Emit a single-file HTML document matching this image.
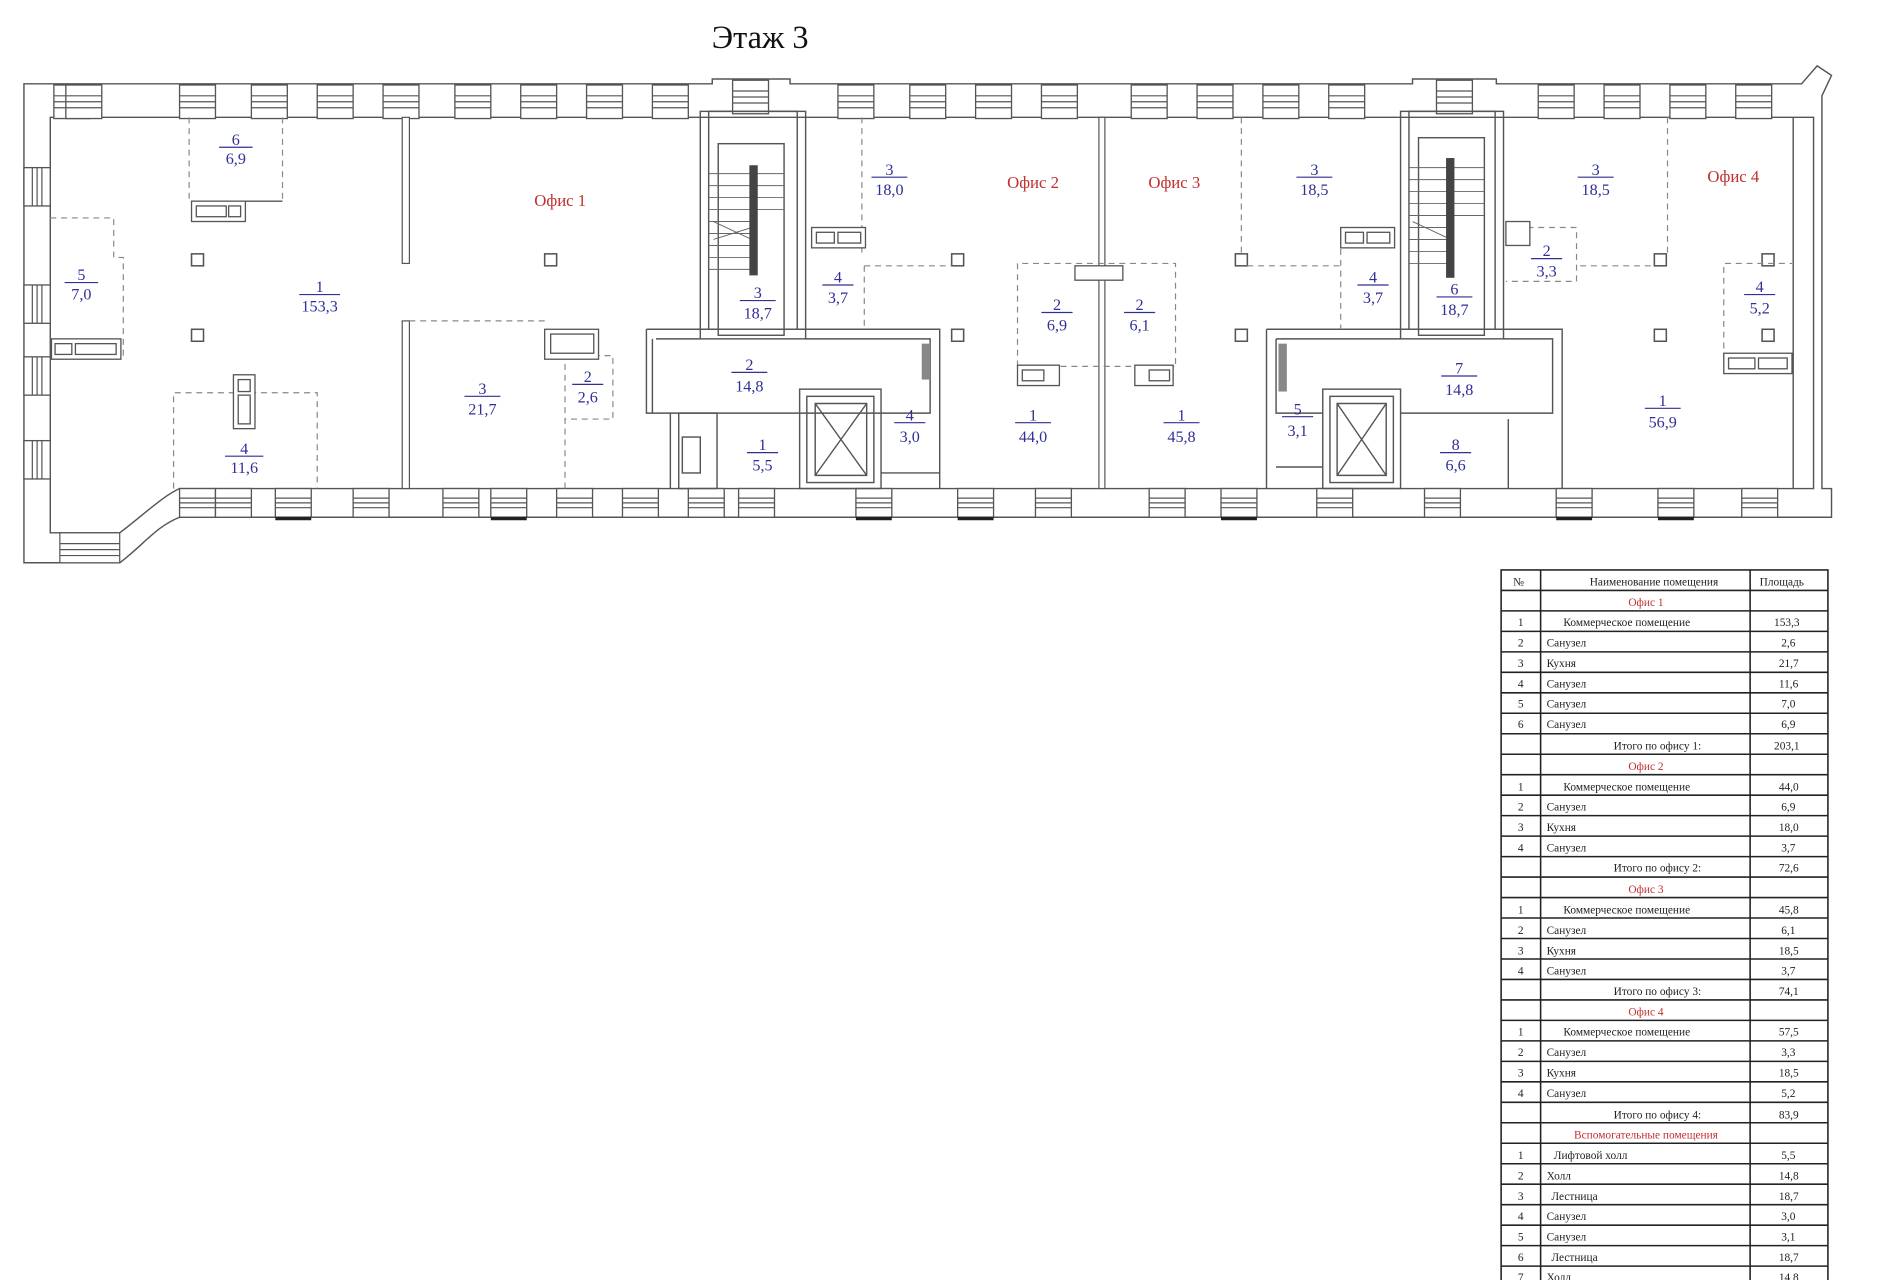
<!DOCTYPE html>
<html><head><meta charset="utf-8"><style>
html,body{margin:0;padding:0;background:#fff}
svg{display:block}
.w{fill:none;stroke:#555;stroke-width:1.2}
.d{fill:none;stroke:#888;stroke-width:1;stroke-dasharray:5,4}
.l{font-family:"Liberation Serif",serif;font-size:13.5px;fill:#2f2f98;text-anchor:middle}
.r{font-family:"Liberation Serif",serif;font-size:14px;fill:#c03030;text-anchor:middle}
.t{font-family:"Liberation Serif",serif;font-size:9.5px;fill:#222}
.tr{font-family:"Liberation Serif",serif;font-size:9.5px;fill:#c03030;text-anchor:middle}
</style></head><body>
<svg width="1877" height="1280" viewBox="0 0 1568 1069" preserveAspectRatio="none" xmlns="http://www.w3.org/2000/svg">
<defs>
<g id="wh"><rect x="0" y="0" width="30" height="28" fill="#fff" stroke="#555" stroke-width="1.1"/><line x1="0" y1="9" x2="30" y2="9" stroke="#555"/><line x1="0" y1="14" x2="30" y2="14" stroke="#555"/><line x1="0" y1="19" x2="30" y2="19" stroke="#555"/></g>
<g id="wv"><rect x="0" y="0" width="22" height="32" fill="#fff" stroke="#555" stroke-width="1.1"/><line x1="7" y1="0" x2="7" y2="32" stroke="#555"/><line x1="11" y1="0" x2="11" y2="32" stroke="#555"/><line x1="15" y1="0" x2="15" y2="32" stroke="#555"/></g>
<g id="wb"><rect x="0" y="0" width="30" height="24" fill="#fff" stroke="#555" stroke-width="1.1"/><line x1="0" y1="8" x2="30" y2="8" stroke="#555"/><line x1="0" y1="12" x2="30" y2="12" stroke="#555"/><line x1="0" y1="16" x2="30" y2="16" stroke="#555"/></g>
<g id="col"><rect x="0" y="0" width="10" height="10" fill="#fff" stroke="#555" stroke-width="1.3"/></g>
</defs>
<text x="635" y="40" text-anchor="middle" font-family="Liberation Serif,serif" font-size="27" fill="#111">Этаж 3</text>

<!-- outer walls -->
<path class="w" d="M20,70 H595 V66 H660 V70 H1180 V66 H1250 V70 H1505 L1518,55 L1530,63 L1522,80 V408 H1530 V432 H150 C130,440 120,455 100,470 H20 Z" fill="#fff"/>
<path class="w" d="M42,98 H1515 V408 H150 C135,415 120,430 100,445 H42 Z"/>
<line class="w" x1="1498" y1="98" x2="1498" y2="408"/>
<!-- top windows -->
<use href="#wh" x="45" y="71"/><use href="#wh" x="55" y="71"/>
<use href="#wh" x="150" y="71"/><use href="#wh" x="210" y="71"/><use href="#wh" x="265" y="71"/><use href="#wh" x="320" y="71"/><use href="#wh" x="380" y="71"/><use href="#wh" x="435" y="71"/><use href="#wh" x="490" y="71"/><use href="#wh" x="545" y="71"/>
<use href="#wh" x="612" y="67"/><use href="#wh" x="700" y="71"/><use href="#wh" x="760" y="71"/><use href="#wh" x="815" y="71"/><use href="#wh" x="870" y="71"/><use href="#wh" x="945" y="71"/><use href="#wh" x="1000" y="71"/><use href="#wh" x="1055" y="71"/><use href="#wh" x="1110" y="71"/>
<use href="#wh" x="1200" y="67"/><use href="#wh" x="1285" y="71"/><use href="#wh" x="1340" y="71"/><use href="#wh" x="1395" y="71"/><use href="#wh" x="1450" y="71"/>
<!-- left windows -->
<use href="#wv" x="20" y="140"/><use href="#wv" x="20" y="238"/><use href="#wv" x="20" y="298"/><use href="#wv" x="20" y="368"/>
<rect x="50" y="445" width="50" height="25" fill="#fff" stroke="#555"/><line x1="50" y1="454" x2="100" y2="454" stroke="#555"/><line x1="50" y1="459" x2="100" y2="459" stroke="#555"/><line x1="50" y1="464" x2="100" y2="464" stroke="#555"/>
<!-- bottom windows -->
<use href="#wb" x="150" y="408"/><use href="#wb" x="180" y="408"/><use href="#wb" x="230" y="408"/><use href="#wb" x="295" y="408"/><use href="#wb" x="370" y="408"/><use href="#wb" x="410" y="408"/><use href="#wb" x="465" y="408"/><use href="#wb" x="520" y="408"/><use href="#wb" x="575" y="408"/><use href="#wb" x="617" y="408"/><use href="#wb" x="715" y="408"/><use href="#wb" x="800" y="408"/><use href="#wb" x="865" y="408"/><use href="#wb" x="960" y="408"/><use href="#wb" x="1020" y="408"/><use href="#wb" x="1100" y="408"/><use href="#wb" x="1190" y="408"/><use href="#wb" x="1300" y="408"/><use href="#wb" x="1385" y="408"/><use href="#wb" x="1455" y="408"/>
<g stroke="#222" stroke-width="3"><line x1="230" y1="433" x2="260" y2="433"/><line x1="410" y1="433" x2="440" y2="433"/><line x1="715" y1="433" x2="745" y2="433"/><line x1="800" y1="433" x2="830" y2="433"/><line x1="1020" y1="433" x2="1050" y2="433"/><line x1="1300" y1="433" x2="1330" y2="433"/><line x1="1385" y1="433" x2="1415" y2="433"/></g>

<!-- office 1 partition -->
<rect x="336" y="98" width="6" height="122" fill="#fff" stroke="#555"/>
<rect x="336" y="268" width="6" height="140" fill="#fff" stroke="#555"/>
<!-- stairs 1 -->
<rect class="w" x="585" y="93" width="88" height="190" fill="#fff"/>
<rect class="w" x="592" y="93" width="74" height="182"/>
<rect class="w" x="600" y="120" width="55" height="160"/>
<g stroke="#666" stroke-width="0.8"><line x1="592" y1="145" x2="655" y2="145"/><line x1="592" y1="155" x2="655" y2="155"/><line x1="592" y1="165" x2="655" y2="165"/><line x1="592" y1="175" x2="655" y2="175"/><line x1="592" y1="185" x2="628" y2="185"/><line x1="592" y1="195" x2="628" y2="195"/><line x1="592" y1="205" x2="628" y2="205"/><line x1="592" y1="215" x2="628" y2="215"/><line x1="592" y1="225" x2="628" y2="225"/><line x1="596" y1="185" x2="628" y2="200"/><line x1="596" y1="200" x2="628" y2="190"/></g>
<rect x="626" y="138" width="7" height="92" fill="#444"/>
<!-- hall 1 -->
<path class="w" d="M540,275 H785 V408 M540,275 V345 H560 V408 M548,283 H585 M673,283 H777 V345 H545 V283"/>
<rect class="w" x="567" y="345" width="32" height="63"/><rect x="570" y="365" width="15" height="30" class="w"/>
<rect class="w" x="668" y="325" width="68" height="83"/><rect class="w" x="674" y="331" width="56" height="72"/>
<path class="w" d="M681,337 H724 V397 H681 Z M681,337 L724,397 M724,337 L681,397"/>
<rect x="770" y="287" width="7" height="30" fill="#888"/>
<line class="w" x1="736" y1="395" x2="785" y2="395"/>
<!-- office 2/3 partition -->
<rect x="918" y="98" width="5" height="310" fill="#fff" stroke="#555"/>
<!-- stairs 2 -->
<rect class="w" x="1170" y="93" width="86" height="190" fill="#fff"/>
<rect class="w" x="1177" y="93" width="72" height="182"/>
<rect class="w" x="1185" y="115" width="55" height="165"/>
<g stroke="#666" stroke-width="0.8"><line x1="1177" y1="140" x2="1240" y2="140"/><line x1="1177" y1="150" x2="1240" y2="150"/><line x1="1177" y1="160" x2="1240" y2="160"/><line x1="1177" y1="170" x2="1240" y2="170"/><line x1="1177" y1="180" x2="1240" y2="180"/><line x1="1177" y1="190" x2="1212" y2="190"/><line x1="1177" y1="200" x2="1212" y2="200"/><line x1="1177" y1="210" x2="1212" y2="210"/><line x1="1177" y1="220" x2="1212" y2="220"/><line x1="1180" y1="185" x2="1212" y2="200"/></g>
<rect x="1208" y="132" width="7" height="100" fill="#444"/>
<!-- hall 2 -->
<path class="w" d="M1058,275 H1305 V408 M1058,275 V408 M1066,283 H1170 M1256,283 H1297 V345 H1170 M1066,283 V345 H1105"/>
<rect x="1068" y="287" width="7" height="40" fill="#888"/>
<rect class="w" x="1105" y="325" width="65" height="83"/><rect class="w" x="1111" y="331" width="53" height="72"/>
<path class="w" d="M1117,337 H1158 V397 H1117 Z M1117,337 L1158,397 M1158,337 L1117,397"/>
<line class="w" x1="1066" y1="390" x2="1105" y2="390"/><line class="w" x1="1260" y1="350" x2="1260" y2="408"/>

<!-- columns -->
<use href="#col" x="160" y="212"/><use href="#col" x="160" y="275"/><use href="#col" x="455" y="212"/><use href="#col" x="795" y="212"/><use href="#col" x="795" y="275"/><use href="#col" x="1032" y="212"/><use href="#col" x="1032" y="275"/><use href="#col" x="1382" y="212"/><use href="#col" x="1382" y="275"/><use href="#col" x="1472" y="212"/><use href="#col" x="1472" y="275"/>

<!-- dashed rooms -->
<path class="d" d="M158,98 V168 M236,98 V168"/><line class="w" x1="205" y1="168" x2="236" y2="168"/>
<path class="d" d="M42,182 H95 V215 H103 V300"/>
<path class="d" d="M145,408 V328 H265 V408"/>
<path class="d" d="M342,268 H455"/>
<path class="d" d="M472,408 V297 H512 V350 H472"/>
<path class="d" d="M720,98 V215 M722,222 H795 M722,222 V275"/>
<path class="d" d="M850,306 V220 H982 V306 M850,306 H982"/>
<path class="d" d="M1037,98 V215 M1042,222 H1120 M1120,190 V275"/>
<path class="d" d="M1393,98 V215 M1258,190 H1317 V235 H1258 M1320,222 H1382"/>
<path class="d" d="M1440,300 V220 H1497"/>

<!-- fixtures -->
<g fill="#fff" stroke="#555" stroke-width="1.1">
<rect x="160" y="168" width="45" height="17"/><rect x="164" y="172" width="25" height="9"/><rect x="191" y="172" width="10" height="9"/>
<rect x="43" y="283" width="58" height="17"/><rect x="46" y="287" width="14" height="9"/><rect x="63" y="287" width="34" height="9"/>
<rect x="195" y="313" width="18" height="45"/><rect x="199" y="317" width="10" height="10"/><rect x="199" y="330" width="10" height="24"/>
<rect x="455" y="275" width="45" height="25"/><rect x="460" y="279" width="36" height="16"/>
<rect x="678" y="190" width="45" height="17"/><rect x="682" y="194" width="15" height="9"/><rect x="700" y="194" width="19" height="9"/>
<rect x="850" y="305" width="35" height="17"/><rect x="854" y="309" width="18" height="9"/>
<rect x="948" y="305" width="32" height="17"/><rect x="960" y="309" width="17" height="9"/>
<rect x="898" y="222" width="40" height="12"/>
<rect x="1120" y="190" width="45" height="17"/><rect x="1124" y="194" width="15" height="9"/><rect x="1142" y="194" width="19" height="9"/>
<rect x="1258" y="185" width="20" height="20"/>
<rect x="1440" y="295" width="57" height="17"/><rect x="1444" y="299" width="22" height="9"/><rect x="1469" y="299" width="24" height="9"/>
</g>

<!-- area labels -->
<g class="l">
<text x="197" y="121">6</text><line x1="183" y1="123" x2="211" y2="123" stroke="#2f2f98"/><text x="197" y="137">6,9</text>
<text x="68" y="234">5</text><line x1="54" y1="236" x2="82" y2="236" stroke="#2f2f98"/><text x="68" y="250">7,0</text>
<text x="267" y="244">1</text><line x1="250" y1="246" x2="284" y2="246" stroke="#2f2f98"/><text x="267" y="260">153,3</text>
<text x="204" y="379">4</text><line x1="188" y1="381" x2="220" y2="381" stroke="#2f2f98"/><text x="204" y="395">11,6</text>
<text x="403" y="329">3</text><line x1="388" y1="331" x2="418" y2="331" stroke="#2f2f98"/><text x="403" y="346">21,7</text>
<text x="491" y="319">2</text><line x1="478" y1="321" x2="504" y2="321" stroke="#2f2f98"/><text x="491" y="336">2,6</text>
<text x="633" y="249">3</text><line x1="618" y1="251" x2="648" y2="251" stroke="#2f2f98"/><text x="633" y="266">18,7</text>
<text x="626" y="309">2</text><line x1="611" y1="311" x2="641" y2="311" stroke="#2f2f98"/><text x="626" y="327">14,8</text>
<text x="637" y="376">1</text><line x1="624" y1="378" x2="650" y2="378" stroke="#2f2f98"/><text x="637" y="393">5,5</text>
<text x="743" y="146">3</text><line x1="728" y1="148" x2="758" y2="148" stroke="#2f2f98"/><text x="743" y="163">18,0</text>
<text x="700" y="236">4</text><line x1="687" y1="238" x2="713" y2="238" stroke="#2f2f98"/><text x="700" y="253">3,7</text>
<text x="760" y="351">4</text><line x1="747" y1="353" x2="773" y2="353" stroke="#2f2f98"/><text x="760" y="369">3,0</text>
<text x="863" y="351">1</text><line x1="848" y1="353" x2="878" y2="353" stroke="#2f2f98"/><text x="863" y="369">44,0</text>
<text x="883" y="259">2</text><line x1="870" y1="261" x2="896" y2="261" stroke="#2f2f98"/><text x="883" y="276">6,9</text>
<text x="952" y="259">2</text><line x1="939" y1="261" x2="965" y2="261" stroke="#2f2f98"/><text x="952" y="276">6,1</text>
<text x="987" y="351">1</text><line x1="972" y1="353" x2="1002" y2="353" stroke="#2f2f98"/><text x="987" y="369">45,8</text>
<text x="1098" y="146">3</text><line x1="1083" y1="148" x2="1113" y2="148" stroke="#2f2f98"/><text x="1098" y="163">18,5</text>
<text x="1147" y="236">4</text><line x1="1134" y1="238" x2="1160" y2="238" stroke="#2f2f98"/><text x="1147" y="253">3,7</text>
<text x="1084" y="346">5</text><line x1="1071" y1="348" x2="1097" y2="348" stroke="#2f2f98"/><text x="1084" y="364">3,1</text>
<text x="1215" y="246">6</text><line x1="1200" y1="248" x2="1230" y2="248" stroke="#2f2f98"/><text x="1215" y="263">18,7</text>
<text x="1219" y="312">7</text><line x1="1204" y1="314" x2="1234" y2="314" stroke="#2f2f98"/><text x="1219" y="330">14,8</text>
<text x="1216" y="376">8</text><line x1="1203" y1="378" x2="1229" y2="378" stroke="#2f2f98"/><text x="1216" y="393">6,6</text>
<text x="1333" y="146">3</text><line x1="1318" y1="148" x2="1348" y2="148" stroke="#2f2f98"/><text x="1333" y="163">18,5</text>
<text x="1292" y="214">2</text><line x1="1279" y1="216" x2="1305" y2="216" stroke="#2f2f98"/><text x="1292" y="231">3,3</text>
<text x="1470" y="244">4</text><line x1="1457" y1="246" x2="1483" y2="246" stroke="#2f2f98"/><text x="1470" y="262">5,2</text>
<text x="1389" y="339">1</text><line x1="1374" y1="341" x2="1404" y2="341" stroke="#2f2f98"/><text x="1389" y="357">56,9</text>
</g>
<g class="r">
<text x="468" y="172">Офис 1</text><text x="863" y="157">Офис 2</text><text x="981" y="157">Офис 3</text><text x="1448" y="152">Офис 4</text>
</g>

<!-- table -->
<g stroke="#222" stroke-width="1.3" fill="none">
<rect x="1254" y="476" width="273" height="600"/>
<line x1="1287" y1="476" x2="1287" y2="1069"/><line x1="1462" y1="476" x2="1462" y2="1069"/>
<line x1="1254" y1="493.1" x2="1527" y2="493.1"/><line x1="1254" y1="510.2" x2="1527" y2="510.2"/><line x1="1254" y1="527.3" x2="1527" y2="527.3"/><line x1="1254" y1="544.4" x2="1527" y2="544.4"/><line x1="1254" y1="561.5" x2="1527" y2="561.5"/><line x1="1254" y1="578.6" x2="1527" y2="578.6"/><line x1="1254" y1="595.7" x2="1527" y2="595.7"/><line x1="1254" y1="612.8" x2="1527" y2="612.8"/><line x1="1254" y1="629.9" x2="1527" y2="629.9"/><line x1="1254" y1="647" x2="1527" y2="647"/><line x1="1254" y1="664.1" x2="1527" y2="664.1"/><line x1="1254" y1="681.2" x2="1527" y2="681.2"/><line x1="1254" y1="698.3" x2="1527" y2="698.3"/><line x1="1254" y1="715.4" x2="1527" y2="715.4"/><line x1="1254" y1="732.5" x2="1527" y2="732.5"/><line x1="1254" y1="749.6" x2="1527" y2="749.6"/><line x1="1254" y1="766.7" x2="1527" y2="766.7"/><line x1="1254" y1="783.8" x2="1527" y2="783.8"/><line x1="1254" y1="800.9" x2="1527" y2="800.9"/><line x1="1254" y1="818" x2="1527" y2="818"/><line x1="1254" y1="835.1" x2="1527" y2="835.1"/><line x1="1254" y1="852.2" x2="1527" y2="852.2"/><line x1="1254" y1="869.3" x2="1527" y2="869.3"/><line x1="1254" y1="886.4" x2="1527" y2="886.4"/><line x1="1254" y1="903.5" x2="1527" y2="903.5"/><line x1="1254" y1="920.6" x2="1527" y2="920.6"/><line x1="1254" y1="937.7" x2="1527" y2="937.7"/><line x1="1254" y1="954.8" x2="1527" y2="954.8"/><line x1="1254" y1="971.9" x2="1527" y2="971.9"/><line x1="1254" y1="989" x2="1527" y2="989"/><line x1="1254" y1="1006.1" x2="1527" y2="1006.1"/><line x1="1254" y1="1023.2" x2="1527" y2="1023.2"/><line x1="1254" y1="1040.3" x2="1527" y2="1040.3"/><line x1="1254" y1="1057.4" x2="1527" y2="1057.4"/>
</g>
<g class="t">
<text x="1264" y="489">№</text><text x="1328" y="489">Наименование помещения</text><text x="1470" y="489">Площадь</text>
<text class="tr" x="1375" y="506">Офис 1</text>
<text x="1268" y="523">1</text><text x="1306" y="523">Коммерческое помещение</text><text x="1482" y="523">153,3</text>
<text x="1268" y="540">2</text><text x="1292" y="540">Санузел</text><text x="1488" y="540">2,6</text>
<text x="1268" y="557">3</text><text x="1292" y="557">Кухня</text><text x="1486" y="557">21,7</text>
<text x="1268" y="574">4</text><text x="1292" y="574">Санузел</text><text x="1486" y="574">11,6</text>
<text x="1268" y="591">5</text><text x="1292" y="591">Санузел</text><text x="1488" y="591">7,0</text>
<text x="1268" y="608">6</text><text x="1292" y="608">Санузел</text><text x="1488" y="608">6,9</text>
<text x="1348" y="626">Итого по офису 1:</text><text x="1482" y="626">203,1</text>
<text class="tr" x="1375" y="643">Офис 2</text>
<text x="1268" y="660">1</text><text x="1306" y="660">Коммерческое помещение</text><text x="1486" y="660">44,0</text>
<text x="1268" y="677">2</text><text x="1292" y="677">Санузел</text><text x="1488" y="677">6,9</text>
<text x="1268" y="694">3</text><text x="1292" y="694">Кухня</text><text x="1486" y="694">18,0</text>
<text x="1268" y="711">4</text><text x="1292" y="711">Санузел</text><text x="1488" y="711">3,7</text>
<text x="1348" y="728">Итого по офису 2:</text><text x="1486" y="728">72,6</text>
<text class="tr" x="1375" y="746">Офис 3</text>
<text x="1268" y="763">1</text><text x="1306" y="763">Коммерческое помещение</text><text x="1486" y="763">45,8</text>
<text x="1268" y="780">2</text><text x="1292" y="780">Санузел</text><text x="1488" y="780">6,1</text>
<text x="1268" y="797">3</text><text x="1292" y="797">Кухня</text><text x="1486" y="797">18,5</text>
<text x="1268" y="814">4</text><text x="1292" y="814">Санузел</text><text x="1488" y="814">3,7</text>
<text x="1348" y="831">Итого по офису 3:</text><text x="1486" y="831">74,1</text>
<text class="tr" x="1375" y="848">Офис 4</text>
<text x="1268" y="865">1</text><text x="1306" y="865">Коммерческое помещение</text><text x="1486" y="865">57,5</text>
<text x="1268" y="882">2</text><text x="1292" y="882">Санузел</text><text x="1488" y="882">3,3</text>
<text x="1268" y="899">3</text><text x="1292" y="899">Кухня</text><text x="1486" y="899">18,5</text>
<text x="1268" y="916">4</text><text x="1292" y="916">Санузел</text><text x="1488" y="916">5,2</text>
<text x="1348" y="934">Итого по офису 4:</text><text x="1486" y="934">83,9</text>
<text class="tr" x="1375" y="951">Вспомогательные помещения</text>
<text x="1268" y="968">1</text><text x="1298" y="968">Лифтовой холл</text><text x="1488" y="968">5,5</text>
<text x="1268" y="985">2</text><text x="1292" y="985">Холл</text><text x="1486" y="985">14,8</text>
<text x="1268" y="1002">3</text><text x="1296" y="1002">Лестница</text><text x="1486" y="1002">18,7</text>
<text x="1268" y="1019">4</text><text x="1292" y="1019">Санузел</text><text x="1488" y="1019">3,0</text>
<text x="1268" y="1036">5</text><text x="1292" y="1036">Санузел</text><text x="1488" y="1036">3,1</text>
<text x="1268" y="1053">6</text><text x="1296" y="1053">Лестница</text><text x="1486" y="1053">18,7</text>
<text x="1268" y="1070">7</text><text x="1292" y="1070">Холл</text><text x="1486" y="1070">14,8</text>
</g>
</svg>
</body></html>
